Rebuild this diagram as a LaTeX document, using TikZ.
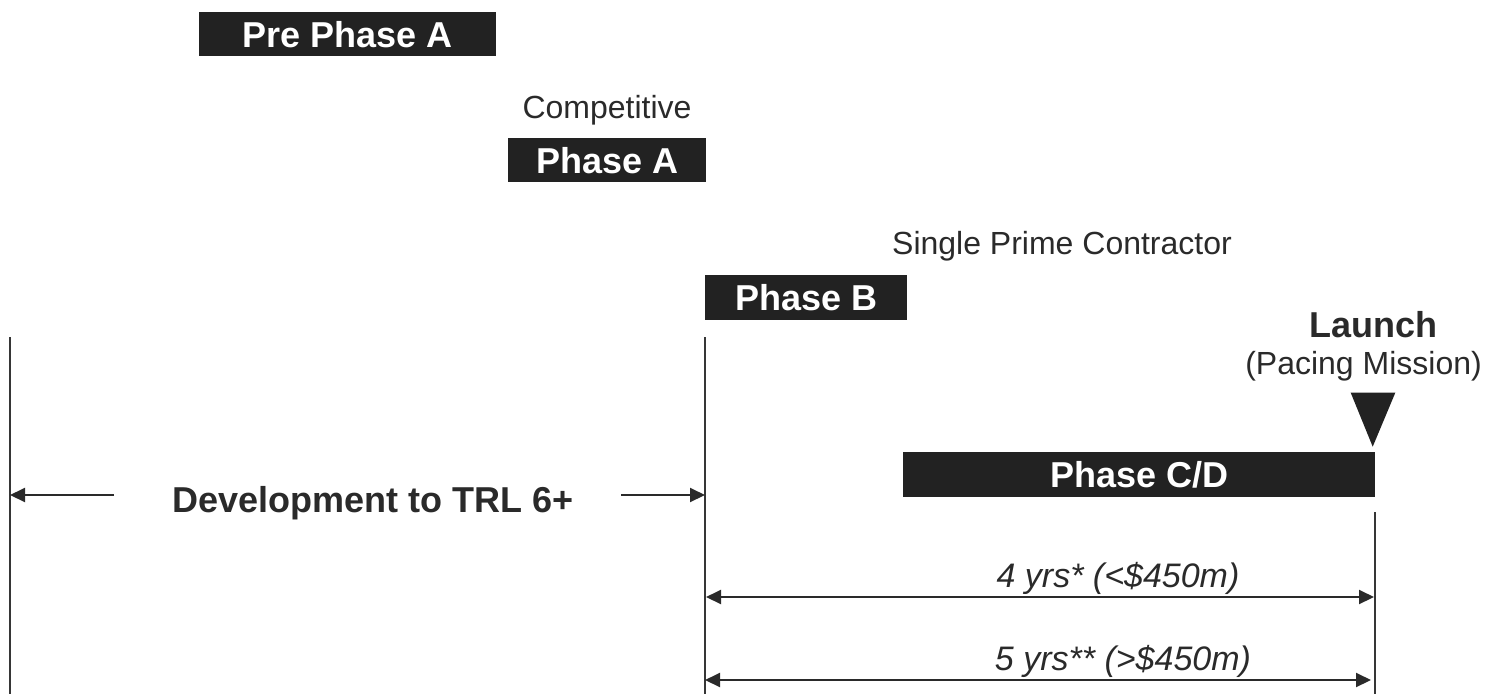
\documentclass[tikz,border=0pt]{standalone}
\usepackage{fontspec}
\setmainfont{Liberation Sans}
\usetikzlibrary{arrows.meta}
\definecolor{ink}{HTML}{222222}
\definecolor{txt}{HTML}{2A2A2A}
\definecolor{rule}{HTML}{363636}
\begin{document}
\begin{tikzpicture}[x=1pt,y=-1pt,
  phasebox/.style={fill=ink, text=white, inner sep=0pt, anchor=north west,
    font=\fontsize{36}{43}\selectfont\bfseries},
  plainlabel/.style={text=txt, inner sep=0pt, anchor=base,
    font=\fontsize{32}{38}\selectfont},
  boldlabel/.style={text=txt, inner sep=0pt, anchor=base,
    font=\fontsize{36}{43}\selectfont\bfseries},
  spanlabel/.style={text=txt, inner sep=0pt, anchor=base,
    font=\fontsize{34}{40}\selectfont\itshape},
  marker/.style={draw=rule, line width=1.8pt},
  span/.style={draw=txt, line width=2pt,
    -{Triangle[length=15pt,width=14pt]}},
  twoway/.style={draw=txt, line width=2pt,
    {Triangle[length=15pt,width=14pt]}-{Triangle[length=15pt,width=14pt]}}]
\useasboundingbox (0,0) rectangle (1493,694);

% phase bars
\node[phasebox, minimum width=297pt, minimum height=44pt] (prea) at (199,12) {Pre Phase A};
\node[plainlabel] (compet) at (607,118) {Competitive};
\node[phasebox, minimum width=198pt, minimum height=44pt] (phasea) at (508,138) {Phase A};
\node[plainlabel] (prime) at (1062,254) {Single Prime Contractor};
\node[phasebox, minimum width=202pt, minimum height=45pt] (phaseb) at (705,275) {Phase B};
\node[phasebox, minimum width=472pt, minimum height=45pt] (phasecd) at (903,452) {Phase C/D};

% launch marker
\node[boldlabel] (launch) at (1373,337) {Launch};
\node[plainlabel, anchor=base east] (pacing) at (1482,374) {(Pacing Mission)};
\fill[ink] (1350.7,392.7) -- (1395.3,392.7) -- (1372.7,446.7) -- cycle;

% milestone rules
\coordinate (L0) at (10,337);
\coordinate (L1) at (10,694);
\coordinate (M0) at (705,337);
\coordinate (M1) at (705,694);
\coordinate (R0) at (1375,512);
\coordinate (R1) at (1375,694);
\draw[marker] (L0) -- (L1);
\draw[marker] (M0) -- (M1);
\draw[marker] (R0) -- (R1);

% technology development span
\node[boldlabel] (dev) at (373,512) {Development to TRL 6+};
\coordinate (devL) at (114,495);
\coordinate (devR) at (621,495);
\draw[span] (devL) -- (L0 |- devL);
\draw[span] (devR) -- (M0 |- devR);

% implementation durations
\node[spanlabel] (four) at (1118,587) {4 yrs* (<\$450m)};
\coordinate (fourL) at (706,597);
\coordinate (fourR) at (1374,597);
\draw[twoway] (fourL) -- (fourR);

\node[spanlabel] (five) at (1123,670) {5 yrs** (>\$450m)};
\coordinate (fiveL) at (705,680);
\coordinate (fiveR) at (1371,680);
\draw[twoway] (fiveL) -- (fiveR);
\end{tikzpicture}
\end{document}
